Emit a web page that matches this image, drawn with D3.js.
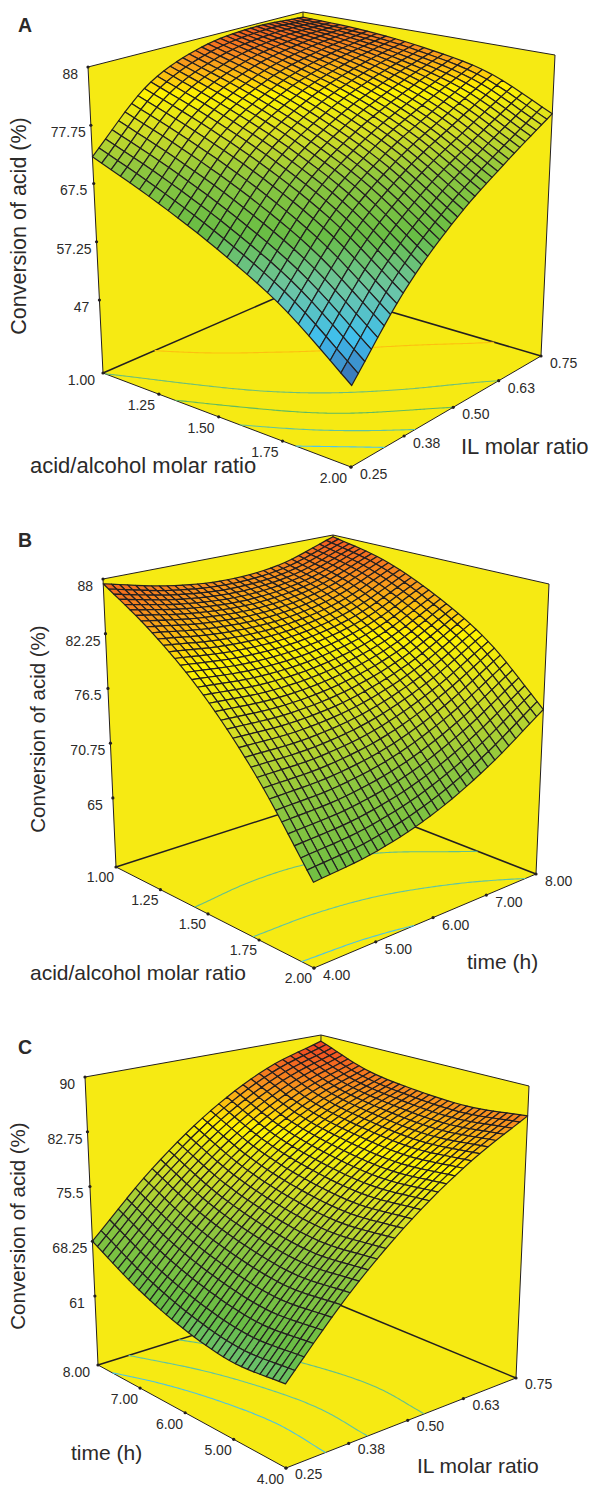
<!DOCTYPE html>
<html>
<head>
<meta charset="utf-8">
<script src="https://cdn.jsdelivr.net/npm/d3@7"></script>
<style>
  body { margin: 0; background: #fff; }
  text { font-family: "Liberation Sans", Arial, sans-serif; fill: #2b2a29; }
</style>
</head>
<body>
<svg id="chart" width="591" height="1486"></svg>
<script>
// tick values and labels
const acidTicks = [1, 1.25, 1.5, 1.75, 2]
const acidLabels = ['1.00', '1.25', '1.50', '1.75', '2.00']
const ilTicks = [0.25, 0.375, 0.5, 0.625, 0.75]
const ilLabels = ['0.25', '0.38', '0.50', '0.63', '0.75']
const timeTicks = [4, 5, 6, 7, 8]
const timeLabels = ['4.00', '5.00', '6.00', '7.00', '8.00']
const timeTicksRev = [8, 7, 6, 5, 4]
const timeLabelsRev = ['8.00', '7.00', '6.00', '5.00', '4.00']

const zTicksA = [47, 57.25, 67.5, 77.75, 88]
const zLabelsA = ['47', '57.25', '67.5', '77.75', '88']
const zTicksB = [65, 70.75, 76.5, 82.25, 88]
const zLabelsB = ['65', '70.75', '76.5', '82.25', '88']
const zTicksC = [61, 68.25, 75.5, 82.75, 90]
const zLabelsC = ['61', '68.25', '75.5', '82.75', '90']

// conversion read from the surface, rows go along the right axis, columns along the left axis
const surfaceA = [
  [72.2, 67.4, 62.0, 55.6, 46.8],
  [82.0, 77.6, 72.6, 66.4, 58.0],
  [86.3, 82.9, 78.8, 73.4, 66.0],
  [87.5, 85.4, 82.6, 78.3, 72.0],
  [87.0, 86.5, 85.2, 82.8, 77.5]
]
const surfaceB = [
  [87.5, 83.9, 79.3, 73.2, 65.6],
  [86.0, 83.0, 78.9, 73.4, 66.3],
  [85.3, 82.9, 79.4, 74.5, 68.0],
  [85.8, 84.0, 81.0, 76.9, 70.9],
  [87.8, 86.5, 84.0, 80.4, 74.9]
]
const surfaceC = [
  [68.25, 64.8, 62.4, 61.2, 61.7],
  [76.0, 72.7, 70.6, 69.5, 70.0],
  [82.2, 79.1, 77.2, 76.3, 76.8],
  [86.6, 83.7, 82.2, 81.5, 82.1],
  [89.1, 86.6, 85.6, 85.3, 86.1]
]

const contourLevelsA = [81.5, 72, 66, 60, 54]
const contourColorsA = ['#fdc010', '#6cbf7a', '#5fbb62', '#5fc3a0', '#4fc6e6']
const contourLevelsB = [80.7, 74, 67.3]
const contourColorsB = ['#62c08e', '#5fc4a4', '#4ec3e0']
const contourLevelsC = [78.5, 72.3, 67]
const contourColorsC = ['#62c08e', '#5fc4a4', '#4ec3e0']

const colorStops = [47, 52, 58, 64, 71, 76.5, 81, 85, 89]
const colorRange = ['#3a6ab0', '#3fbfee', '#6cc6a4', '#68bd45', '#8dc63f', '#d7df23', '#fff200', '#f7941d', '#ef4123']

const wallColor = '#f6ea13'
const lineColor = '#231f20'
const zColor = d3.scaleLinear().domain(colorStops).range(colorRange)

const panels = [
  {
    letter: 'A', letterPos: [18, 32],
    floor: [[103, 373], [351, 467], [541, 356], [303, 286]],
    top: [[88, 67], [354, 120], [555, 55], [303, 12]],
    zBase: 0.2386, cells: [26, 34],
    xTicks: acidTicks, xLabels: acidLabels, xDomain: [1, 2], xOff: [-4, 16],
    yTicks: ilTicks, yLabels: ilLabels, yDomain: [0.25, 0.75], yOff: [9, 12],
    zTicks: zTicksA, zLabels: zLabelsA,
    surface: surfaceA, levels: contourLevelsA, levelColors: contourColorsA,
    zTitle: [26, 226, 21.5], xTitle: ['acid/alcohol molar ratio', 30, 473, 22], yTitle: ['IL molar ratio', 461, 454, 22]
  },
  {
    letter: 'B', letterPos: [18, 547],
    floor: [[116, 867], [314, 968], [536, 874], [336, 796]],
    top: [[103, 579], [312, 638], [549, 584], [333, 535]],
    zBase: 0.24, cells: [36, 31],
    xTicks: acidTicks, xLabels: acidLabels, xDomain: [1, 2], xOff: [-2, 15],
    yTicks: timeTicks, yLabels: timeLabels, yDomain: [4, 8], yOff: [9, 12],
    zTicks: zTicksB, zLabels: zLabelsB,
    surface: surfaceB, levels: contourLevelsB, levelColors: contourColorsB,
    zTitle: [45, 729, 20.5], xTitle: ['acid/alcohol molar ratio', 30, 980, 21], yTitle: ['time (h)', 467, 969, 21]
  },
  {
    letter: 'C', letterPos: [18, 1054],
    floor: [[98, 1365], [286, 1468], [516, 1378], [318, 1296]],
    top: [[85, 1077], [284, 1142], [529, 1086], [321, 1035]],
    zBase: 0.2396, cells: [34, 28],
    xTicks: timeTicksRev, xLabels: timeLabelsRev, xDomain: [8, 4], xOff: [-2, 16],
    yTicks: ilTicks, yLabels: ilLabels, yDomain: [0.25, 0.75], yOff: [9, 11],
    zTicks: zTicksC, zLabels: zLabelsC,
    surface: surfaceC, levels: contourLevelsC, levelColors: contourColorsC,
    zTitle: [25, 1226, 20.5], xTitle: ['time (h)', 71, 1460, 21], yTitle: ['IL molar ratio', 417, 1473, 21]
  }
]

// unit square to quad, corners in order (0,0) (1,0) (1,1) (0,1)
function quadMap(q) {
  const [[x0, y0], [x1, y1], [x2, y2], [x3, y3]] = q
  const dx1 = x1 - x2, dx2 = x3 - x2, dx3 = x0 - x1 + x2 - x3
  const dy1 = y1 - y2, dy2 = y3 - y2, dy3 = y0 - y1 + y2 - y3
  const det = dx1 * dy2 - dx2 * dy1
  const g = (dx3 * dy2 - dx2 * dy3) / det
  const h = (dx1 * dy3 - dx3 * dy1) / det
  const a = x1 - x0 + g * x1, b = x3 - x0 + h * x3
  const d = y1 - y0 + g * y1, e = y3 - y0 + h * y3
  return (s, v) => {
    const w = g * s + h * v + 1
    return [(a * s + b * v + x0) / w, (d * s + e * v + y0) / w]
  }
}

// Catmull-Rom through the values, only used to draw the fine mesh
function spline(vals, t) {
  const n = vals.length - 1
  const pos = Math.min(Math.max(t, 0), 1) * n
  const i = Math.min(Math.floor(pos), n - 1)
  const f = pos - i
  const p1 = vals[i], p2 = vals[i + 1]
  const p0 = i > 0 ? vals[i - 1] : 2 * p1 - p2
  const p3 = i < n - 1 ? vals[i + 2] : 2 * p2 - p1
  return 0.5 * (2 * p1 + (p2 - p0) * f + (2 * p0 - 5 * p1 + 4 * p2 - p3) * f * f + (3 * p1 - p0 - 3 * p2 + p3) * f * f * f)
}

function surfaceAt(table, s, v) {
  return spline(table.map(row => spline(row, s)), v)
}

const svg = d3.select('#chart')

function drawPanel(p) {
  const g = svg.append('g')
  const floorAt = quadMap(p.floor)
  const topAt = quadMap(p.top)
  const zScale = d3.scaleLinear().domain([p.zTicks[0], p.zTicks[p.zTicks.length - 1]]).range([p.zBase, 1])
  const project = (s, v, z) => {
    const a = floorAt(s, v), b = topAt(s, v), t = zScale(z)
    return [a[0] + (b[0] - a[0]) * t, a[1] + (b[1] - a[1]) * t]
  }
  const [L, F, R, B] = p.floor
  const [TL, , TR, TB] = p.top
  const line = d3.line()

  g.append('path')
    .attr('d', line([L, TL, TB, TR, R, F]) + 'Z')
    .attr('fill', wallColor)

  const edges = [[L, TL, 1], [TL, TB, 1], [TB, TR, 1], [TR, R, 1], [R, F, 1], [F, L, 1], [L, B, 1.5], [B, R, 1.5], [B, TB, 1]]
  g.selectAll('.edge').data(edges).join('path')
    .attr('class', 'edge')
    .attr('d', d => line([d[0], d[1]]))
    .attr('stroke', lineColor)
    .attr('stroke-width', d => d[2])

  // floor contours
  const n = 120
  const values = new Float64Array(n * n)
  for (let j = 0; j < n; j++) {
    for (let i = 0; i < n; i++) {
      values[j * n + i] = surfaceAt(p.surface, i / (n - 1), j / (n - 1))
    }
  }
  const contours = d3.contours().size([n, n])
  const toFloor = c => floorAt(Math.min(Math.max((c[0] - 0.5) / (n - 1), 0), 1), Math.min(Math.max((c[1] - 0.5) / (n - 1), 0), 1))
  const onBorder = (a, b) =>
    (a[0] <= 0.6 && b[0] <= 0.6) || (a[0] >= n - 0.6 && b[0] >= n - 0.6) ||
    (a[1] <= 0.6 && b[1] <= 0.6) || (a[1] >= n - 0.6 && b[1] >= n - 0.6)

  p.levels.forEach((level, k) => {
    const shape = contours.contour(values, level)
    shape.coordinates.forEach(poly => poly.forEach(ring => {
      let run = []
      const flush = () => {
        if (run.length > 1) {
          g.append('path')
            .attr('d', line(run.map(toFloor)))
            .attr('fill', 'none')
            .attr('stroke', p.levelColors[k])
            .attr('stroke-width', 1.1)
        }
        run = []
      }
      ring.forEach((c, i) => {
        if (i > 0 && onBorder(ring[i - 1], c)) flush()
        run.push(c)
      })
      flush()
    }))
  })

  // surface mesh, back corner first so the front cells paint over
  const [nx, ny] = p.cells
  const cells = []
  for (let i = 0; i < nx; i++) {
    for (let j = ny - 1; j >= 0; j--) {
      cells.push({ s0: i / nx, s1: (i + 1) / nx, v0: j / ny, v1: (j + 1) / ny })
    }
  }
  g.append('g').selectAll('path').data(cells).join('path')
    .attr('d', d => {
      const pts = [[d.s0, d.v0], [d.s1, d.v0], [d.s1, d.v1], [d.s0, d.v1]]
        .map(c => project(c[0], c[1], surfaceAt(p.surface, c[0], c[1])))
      return line(pts) + 'Z'
    })
    .attr('fill', d => zColor(surfaceAt(p.surface, (d.s0 + d.s1) / 2, (d.v0 + d.v1) / 2)))
    .attr('stroke', lineColor)
    .attr('stroke-width', 1.2)
    .attr('stroke-linejoin', 'round')

  // axes: dots and labels
  const xPos = d3.scaleLinear().domain(p.xDomain).range([0, 1])
  const yPos = d3.scaleLinear().domain(p.yDomain).range([0, 1])
  const tickSize = 14
  const addTick = (pt, label, dx, dy, anchor) => {
    g.append('circle').attr('cx', pt[0]).attr('cy', pt[1]).attr('r', 1.6).attr('fill', lineColor)
    g.append('text').attr('x', pt[0] + dx).attr('y', pt[1] + dy)
      .attr('text-anchor', anchor).attr('font-size', tickSize).text(label)
  }
  p.xTicks.forEach((t, i) => {
    const first = i === 0
    addTick(floorAt(xPos(t), 0), p.xLabels[i], first && p.letter !== 'B' ? -8 : p.xOff[0], first && p.letter !== 'B' ? 12 : p.xOff[1], 'end')
  })
  p.yTicks.forEach((t, i) => {
    addTick(floorAt(1, yPos(t)), p.yLabels[i], p.yOff[0], p.yOff[1], 'start')
  })
  p.zTicks.forEach((t, i) => {
    const label = p.zLabels[i]
    const dx = label.length <= 2 ? -10 : label.length === 4 ? -6.5 : -5
    const a = floorAt(0, 0), b = topAt(0, 0), k = zScale(t)
    addTick([a[0] + (b[0] - a[0]) * k, a[1] + (b[1] - a[1]) * k], label, dx, 12, 'end')
  })

  // titles
  g.append('text').attr('x', p.letterPos[0]).attr('y', p.letterPos[1])
    .attr('font-size', 19.5).attr('font-weight', 'bold').text(p.letter)
  g.append('text')
    .attr('transform', `translate(${p.zTitle[0]},${p.zTitle[1]}) rotate(-90)`)
    .attr('text-anchor', 'middle').attr('font-size', p.zTitle[2]).text('Conversion of acid (%)')
  g.append('text').attr('x', p.xTitle[1]).attr('y', p.xTitle[2]).attr('font-size', p.xTitle[3]).text(p.xTitle[0])
  g.append('text').attr('x', p.yTitle[1]).attr('y', p.yTitle[2]).attr('font-size', p.yTitle[3]).text(p.yTitle[0])
}

panels.forEach(drawPanel)
</script>
</body>
</html>
